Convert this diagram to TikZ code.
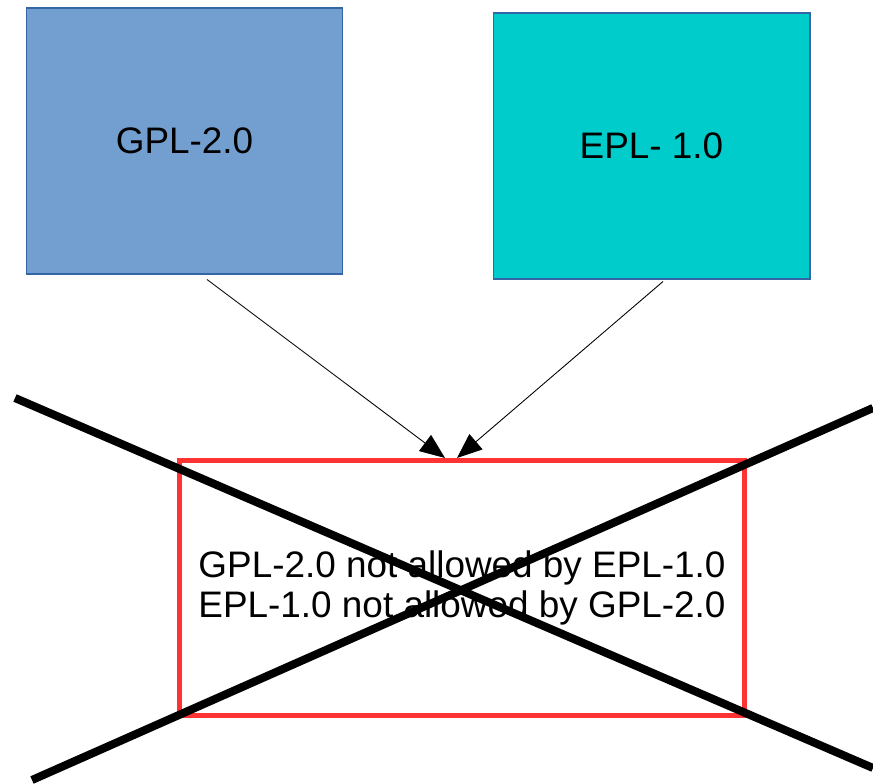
\documentclass[tikz,border=0pt]{standalone}
\usepackage{fontspec}
\setmainfont{Liberation Sans}
\usetikzlibrary{calc,arrows.meta}

\definecolor{gplblue}{HTML}{729FCF}
\definecolor{eplteal}{HTML}{00CCCC}
\definecolor{edgeblue}{HTML}{3465A4}
\definecolor{conflictred}{HTML}{FF3333}

\tikzset{
	licence/.style={draw=edgeblue, line width=0.6pt, minimum width=6.34cm, minimum height=5.32cm,
		font=\fontsize{21}{23}\selectfont},
	conflictbox/.style={draw=conflictred, line width=2.9pt, minimum width=11.3cm, minimum height=5.1cm,
		align=center, font=\fontsize{21}{22.8}\selectfont},
	arrow/.style={line width=0.5pt, -{Triangle[length=0.5cm,width=0.4cm]}},
	cross/.style={line width=4.6pt}
}

\begin{document}
\begin{tikzpicture}[x=0.02cm, y=-0.02cm]
	\useasboundingbox (0,0) rectangle (873,784);
	
	\node[licence, fill=gplblue] (gpl) at (184.5,141) {GPL-2.0};
	\node[licence, fill=eplteal] (epl) at (651.5,146) {EPL- 1.0};
	
	\node[conflictbox] (conflict) at (462,588) {GPL-2.0 not allowed by EPL-1.0\\EPL-1.0 not allowed by GPL-2.0};
	
	%arrows into the conflict box
	\draw[arrow] ($(gpl.south)+(22.5,5)$) -- ($(conflict.north)+(-17,0)$);
	\draw[arrow] ($(epl.south)+(11.5,2)$) -- ($(conflict.north)+(-5,0)$);
	
	%-------------------------------------
	\draw[cross] (15,398) -- (873,768);
	\draw[cross] (32,780) -- (873,408);
	
\end{tikzpicture}
\end{document}
